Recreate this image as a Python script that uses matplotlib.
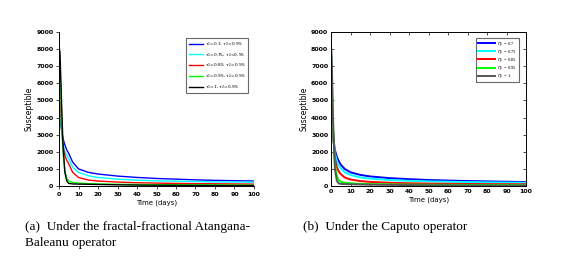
import matplotlib
matplotlib.use('Agg')
import matplotlib.pyplot as plt
import numpy as np

t = [0, 0.5, 1, 2, 3, 4, 5, 7, 10, 15, 20, 30, 40, 50, 60, 70, 80, 90, 100]

# (a) fractal-fractional Atangana-Baleanu
ab_07 = [8200, 4300, 3500, 2800, 2400, 2100, 1900, 1400, 1000, 800, 700, 580, 500, 440, 400, 360, 330, 310, 290]
ab_075 = [8200, 5000, 3800, 2500, 2000, 1800, 1600, 1100, 800, 600, 500, 400, 340, 300, 280, 260, 240, 230, 220]
ab_085 = [8200, 6000, 4200, 2400, 1800, 1500, 1300, 800, 500, 350, 290, 230, 190, 170, 150, 140, 130, 120, 110]
ab_095 = [8200, 7000, 5000, 2000, 900, 450, 300, 200, 170, 140, 120, 100, 90, 80, 70, 65, 60, 55, 50]
ab_1 = [8200, 7800, 6000, 2500, 800, 300, 150, 120, 110, 100, 90, 70, 55, 45, 40, 35, 30, 28, 25]

# (b) Caputo
cp_07 = [8200, 4000, 2900, 2100, 1700, 1450, 1250, 1000, 800, 650, 560, 460, 400, 350, 320, 290, 270, 250, 230]
cp_075 = [8200, 4500, 3000, 1900, 1450, 1200, 1050, 800, 650, 500, 430, 350, 300, 270, 250, 230, 215, 200, 190]
cp_085 = [8200, 5200, 3200, 1600, 1100, 850, 700, 500, 380, 290, 240, 190, 160, 140, 130, 120, 110, 105, 100]
cp_095 = [8200, 6000, 3500, 1300, 600, 350, 250, 190, 160, 130, 115, 95, 85, 75, 70, 65, 60, 55, 50]
cp_1 = [8200, 6800, 4000, 1000, 300, 150, 120, 110, 100, 90, 80, 65, 55, 45, 40, 35, 30, 28, 25]

colors = ['#0000ff', '#00ffff', '#ff0000', '#00ff00', '#000000']
lbs_a = [r'$\tau_1$=0.7, $\tau_2$=0.95', r'$\tau_1$=0.75, $\tau_2$=0.95', r'$\tau_1$=0.85, $\tau_2$=0.95',
         r'$\tau_1$=0.95, $\tau_2$=0.95', r'$\tau_1$=1, $\tau_2$=0.95']
lbs_b = [r'$\eta_1$ = 0.7', r'$\eta_1$ = 0.75', r'$\eta_1$ = 0.85', r'$\eta_1$ = 0.95', r'$\eta_1$ = 1']
xticks = [0, 10, 20, 30, 40, 50, 60, 70, 80, 90, 100]
yticks = [0, 1000, 2000, 3000, 4000, 5000, 6000, 7000, 8000, 9000]

fig = plt.figure(figsize=(5.75, 2.58), dpi=100)
ax1 = fig.add_axes([59/575, 1-186/258, 195/575, 154/258])
ax2 = fig.add_axes([331/575, 1-186/258, 195/575, 154/258])

for i, y in enumerate([ab_07, ab_075, ab_085, ab_095, ab_1]):
    ax1.plot(t, y, color=colors[i], lw=1.0, label=lbs_a[i])
for i, y in enumerate([cp_07, cp_075, cp_085, cp_095, cp_1]):
    c = '#555555' if i == 4 else colors[i]
    ax2.plot(t, y, color=c, lw=1.4, label=lbs_b[i])

for ax in (ax1, ax2):
    ax.set_xlim(0, 100)
    ax.set_ylim(0, 9000)
    ax.set_xticks(xticks)
    ax.set_yticks(yticks)
    ax.tick_params(labelsize=4.5, length=2, width=0.5, pad=2)
    for lab in ax.get_xticklabels() + ax.get_yticklabels():
        lab.set_fontweight('bold')
    ax.set_xlabel('Time (days)', fontsize=5, labelpad=2)
    ax.set_ylabel('Susceptible', fontsize=5.5, labelpad=2)
    for s in ax.spines.values():
        s.set_linewidth(0.7)

ax1.spines['top'].set_visible(False)
ax1.spines['right'].set_visible(False)
ax1.tick_params(direction='out')
ax2.tick_params(direction='in', top=True, right=True)

l1 = ax1.legend(loc='upper right', bbox_to_anchor=(0.98, 0.975), fontsize=3.2, frameon=True,
                fancybox=False, edgecolor='#444444', handlelength=3.2, handletextpad=0.5,
                borderpad=0.5, labelspacing=0.7)
l1.get_frame().set_linewidth(0.8)
l2 = ax2.legend(loc='upper right', bbox_to_anchor=(0.975, 0.975),
                prop={'family': 'Liberation Serif', 'size': 3.3}, frameon=True, fancybox=False,
                edgecolor='#444444', handlelength=3.8, handletextpad=0.5, borderpad=0.3,
                labelspacing=0.05)
l2.get_frame().set_linewidth(0.8)

fig.text(25/575, 1-221/258, '(a)  Under the fractal-fractional Atangana-\nBaleanu operator',
         family='Liberation Serif', fontsize=9.5, va='top', ha='left', linespacing=1.45)
fig.text(303/575, 1-221/258, '(b)  Under the Caputo operator',
         family='Liberation Serif', fontsize=9.5, va='top', ha='left')

plt.savefig('out.png', dpi=100)
